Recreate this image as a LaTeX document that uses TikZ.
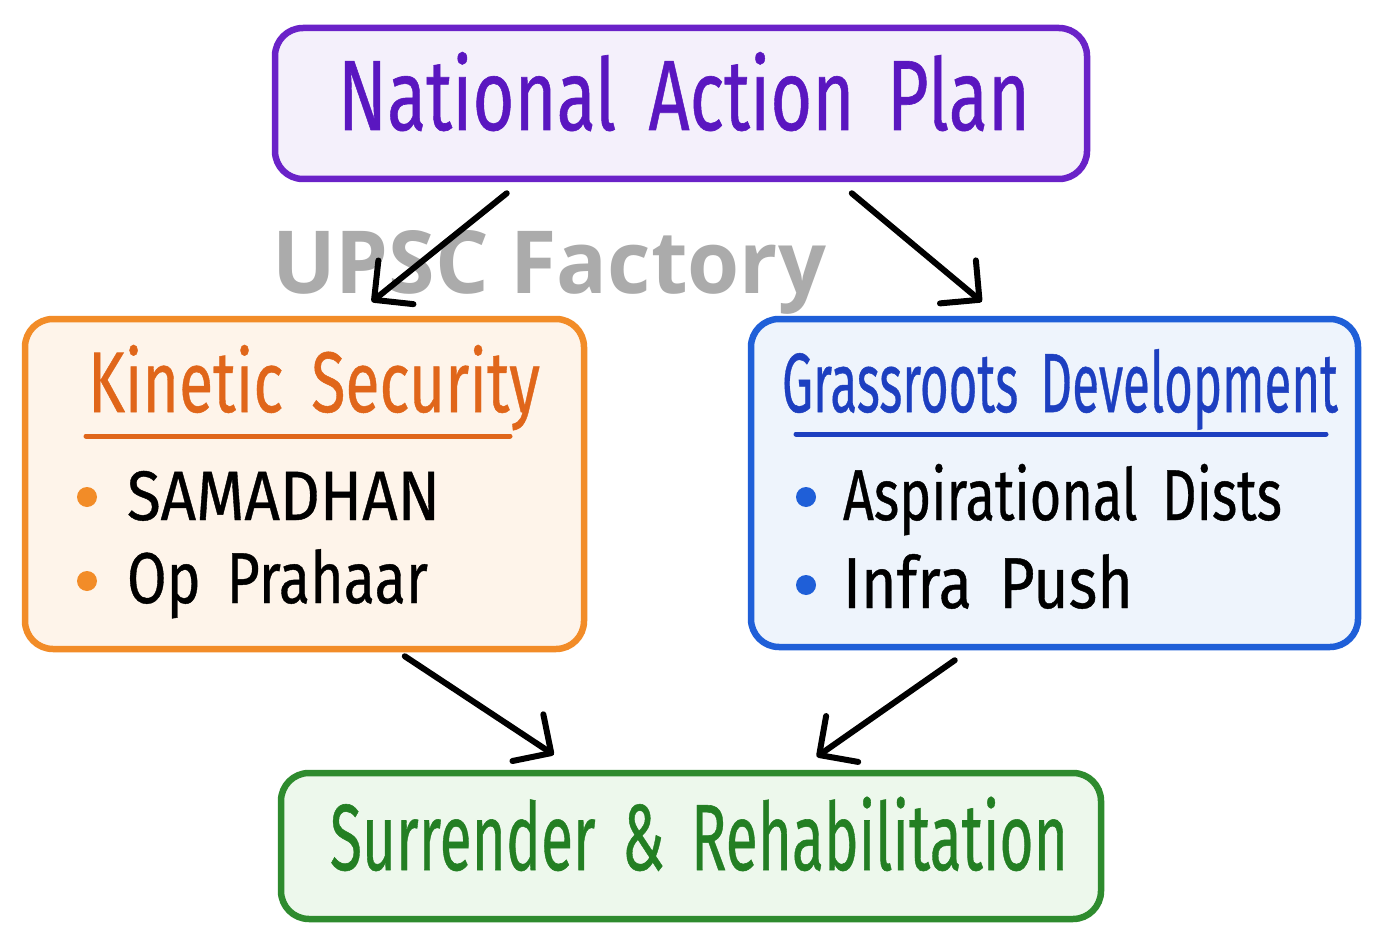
\documentclass[tikz,border=0pt]{standalone}
\usepackage{fontspec}
\usepackage{graphicx}
\setmainfont{Fira Sans}[FakeBold=0.6]
\newfontfamily\wmfont{Open Sans}
\usetikzlibrary{arrows.meta,calc}
\definecolor{purpB}{HTML}{6A22C8}
\definecolor{purpF}{HTML}{F4F0FB}
\definecolor{purpT}{HTML}{5A16C0}
\definecolor{oranB}{HTML}{F28C28}
\definecolor{oranF}{HTML}{FEF4EA}
\definecolor{oranT}{HTML}{E0661A}
\definecolor{blueB}{HTML}{1F5FD8}
\definecolor{blueF}{HTML}{EEF4FC}
\definecolor{blueT}{HTML}{1D3FC0}
\definecolor{greeB}{HTML}{2E8B2E}
\definecolor{greeF}{HTML}{EDF8EC}
\definecolor{greeT}{HTML}{237F23}
\definecolor{wmgray}{HTML}{ABABAB}
\newcommand{\fitto}[2]{\resizebox{#1}{\height}{#2}}
\newcommand{\wsp}{\hspace{0.45em}}
\begin{document}
\begin{tikzpicture}[x=1pt,y=-1pt,
  box/.style={rectangle, rounded corners=28pt, line width=6.5pt, inner sep=0pt},
  txt/.style={anchor=base west, inner sep=0pt, outer sep=0pt},
  arr/.style={line width=6pt, line cap=round, line join=round, -{Straight Barb[length=28pt,width=56pt,line cap=round,line join=round]}},
  uline/.style={line width=5pt, line cap=round}]
\useasboundingbox (0,0) rectangle (1385,947);
\fill[white] (0,0) rectangle (1385,947);
% boxes
\node[box, draw=purpB, fill=purpF, minimum width=812pt, minimum height=151pt] (nap) at (681,103.5) {};
\node[box, draw=oranB, fill=oranF, minimum width=559pt, minimum height=330pt] (ks) at (304.5,484) {};
\node[box, draw=blueB, fill=blueF, minimum width=607pt, minimum height=328pt] (gd) at (1054.5,483) {};
\node[box, draw=greeB, fill=greeF, minimum width=820pt, minimum height=146pt] (sr) at (691,846) {};
% titles
\node[txt, text=purpT] (napT) at (338,130) {\fitto{692pt}{\fontsize{100}{100}\selectfont National\wsp Action\wsp Plan}};
\node[txt, text=oranT] (ksT) at (88,412) {\fitto{452pt}{\fontsize{86}{86}\selectfont Kinetic\wsp Security}};
\node[txt, text=blueT] (gdT) at (782,412) {\fitto{556pt}{\fontsize{84}{84}\selectfont Grassroots\wsp Development}};
\node[txt, text=greeT] (srT) at (330,870) {\fitto{738pt}{\fontsize{94}{94}\selectfont Surrender\wsp\&\wsp Rehabilitation}};
% underlines
\draw[uline, oranT] (86,436) -- (510,436);
\draw[uline, blueT] (796,434) -- (1326,434);
% bullets
\fill[oranB] (87,497) circle (10pt);
\fill[oranB] (87,581) circle (10pt);
\fill[blueB] (806,497) circle (10pt);
\fill[blueB] (806,585) circle (10pt);
% items
\node[txt] (k1) at (127,520) {\fitto{313pt}{\fontsize{70}{70}\selectfont SAMADHAN}};
\node[txt] (k2) at (127,603) {\fitto{301pt}{\fontsize{72}{72}\selectfont Op\wsp Prahaar}};
\node[txt] (g1) at (843,520) {\fitto{439pt}{\fontsize{72}{72}\selectfont Aspirational\wsp Dists}};
\node[txt] (g2) at (843,608) {\fitto{290pt}{\fontsize{72}{72}\selectfont Infra\wsp Push}};
% watermark
\node[txt, text=wmgray] (wm) at (272,293) {\fitto{554pt}{\wmfont\bfseries\fontsize{87}{87}\selectfont UPSC Factory}};
% arrows
\draw[arr] ([xshift=235pt,yshift=-11pt]nap.south west) -- ([xshift=350pt,yshift=14pt]ks.north west);
\draw[arr] ([xshift=580pt,yshift=-11pt]nap.south west) -- ([xshift=234pt,yshift=14pt]gd.north west);
\draw[arr] ([xshift=383pt,yshift=-4pt]ks.south west) -- ([xshift=276pt,yshift=15pt]sr.north west);
\draw[arr] ([xshift=207pt,yshift=-10pt]gd.south west) -- ([xshift=539pt,yshift=13pt]sr.north west);
\end{tikzpicture}
\end{document}
